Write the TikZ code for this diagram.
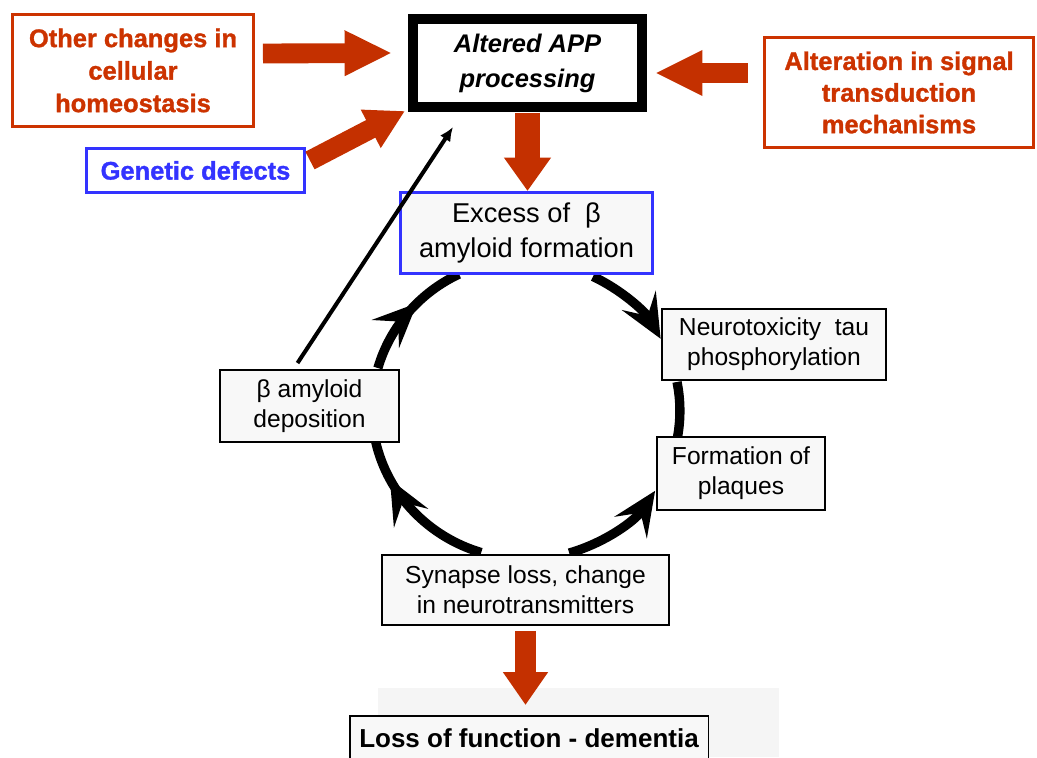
\documentclass[tikz,border=0pt]{standalone}
\usepackage{fontspec}
\setmainfont{Liberation Sans}
\newfontfamily\heavyfont[BoldFeatures={FakeBold=1.2}]{Liberation Sans}
\usetikzlibrary{arrows.meta,decorations.markings,backgrounds}
\definecolor{boxred}{RGB}{204,51,0}
\definecolor{arrowred}{RGB}{196,48,0}
\definecolor{boxblue}{RGB}{51,51,255}
\definecolor{cellgray}{RGB}{248,248,248}
\definecolor{bggray}{RGB}{245,245,245}

\begin{document}
\begin{tikzpicture}[
  x=0.02cm, y=-0.02cm,
  every node/.style={align=center, inner sep=0pt},
  cause/.style={draw=boxred, line width=1.7pt, fill=white, text=boxred,
    font=\fontsize{14.5}{18.5}\selectfont\heavyfont\bfseries},
  gene/.style={draw=boxblue, line width=1.7pt, fill=white, text=boxblue,
    font=\fontsize{14.5}{18.5}\selectfont\heavyfont\bfseries},
  stage/.style={draw=black, line width=1.1pt, fill=cellgray,
    font=\fontsize{14}{17}\selectfont},
  fatarrow/.style={draw=arrowred, line width=11.3pt,
    -{Triangle[length=27pt,width=24pt]}},
  loopline/.style={line width=5.3pt},
  looptip/.style={-{Stealth[length=25pt,width=22pt,inset=10pt]}},
  midtip/.style={postaction={decorate}, decoration={markings,
    mark=at position #1 with {\arrow{Stealth[length=25pt,width=22pt,inset=10pt]}}}}
]
\useasboundingbox (0,0) rectangle (1037,757);
\fill[bggray] (378,688) rectangle (779,757);

% causes
\node[cause, minimum width=4.82cm, minimum height=2.24cm] (other) at (133,70.5)
  {Other changes in\\cellular\\homeostasis};
\node[draw=black, line width=5.7pt, fill=white, minimum width=4.58cm, minimum height=1.76cm,
  font=\fontsize{14.5}{20}\selectfont\heavyfont\bfseries\itshape] (app) at (527.5,63)
  {Altered APP\\processing};
\node[cause, minimum width=5.38cm, minimum height=2.2cm,
  font=\fontsize{14.5}{18}\selectfont\heavyfont\bfseries]
  (alter) at (899,92.5) {Alteration in signal\\transduction\\mechanisms};
\node[gene, minimum width=4.36cm, minimum height=0.88cm] (genetic) at (195.5,170.5)
  {Genetic defects};

% cycle
\node[stage, draw=boxblue, line width=1.7pt, minimum width=5.04cm, minimum height=1.62cm,
  font=\fontsize{15.5}{20}\selectfont] (excess) at (526.5,233)
  {Excess of~ β\\amyloid formation};
\node[stage, minimum width=4.48cm, minimum height=1.42cm] (neuro) at (774,344.5)
  {Neurotoxicity~ tau\\phosphorylation};
\node[stage, minimum width=3.36cm, minimum height=1.46cm] (plaques) at (741,473.5)
  {Formation of\\plaques};
\node[stage, minimum width=3.58cm, minimum height=1.44cm] (beta) at (309.5,406)
  {β amyloid\\deposition};
\node[stage, minimum width=5.74cm, minimum height=1.4cm] (synapse) at (525.5,590)
  {Synapse loss, change\\in neurotransmitters};
\node[stage, anchor=north, minimum width=7.18cm, inner ysep=0.2cm, text height=0.44cm,
  text depth=1.2cm, font=\fontsize{14.8}{18}\selectfont\bfseries] (dementia) at (529,715)
  {Loss of function - dementia};

% red arrows
\draw[fatarrow] ([shift={(8,-17)}]other.east) -- ([shift={(-16,-10)}]app.west);
\draw[fatarrow] ([shift={(-15,-19.5)}]alter.west) -- ([shift={(8,10)}]app.east);
\draw[fatarrow, -{Triangle[length=22pt,width=23pt]}]
  ([shift={(4,-10)}]genetic.east) -- ([shift={(-3,-1)}]app.south west);
\draw[fatarrow, line width=14.7pt, -{Triangle[length=19pt,width=25.5pt]}]
  ([shift={(0,1)}]app.south) -- (app.south |- excess.north);
\draw[fatarrow, line width=12.5pt, -{Triangle[length=18.7pt,width=24.4pt]}]
  ([shift={(0,5)}]synapse.south) -- ([shift={(0,-10)}]synapse.south |- dementia.north);

% feedback
\draw[line width=2.3pt, -{Latex[length=8pt,width=7pt]}]
  ([shift={(-12,-6)}]beta.north) -- ([shift={(45,15)}]app.south west);

\begin{scope}[on background layer]
\draw[loopline, looptip] ([shift={(66.5,1.5)}]excess.south)
  arc[start angle=64.2, end angle=29, x radius=3.08cm, y radius=3cm];
\draw[loopline] ([shift={(-97,1)}]neuro.south)
  arc[start angle=11.1, end angle=-10, x radius=3.08cm, y radius=3cm];
\draw[loopline, looptip] ([shift={(43.7,-1)}]synapse.north)
  arc[start angle=-73.7, end angle=-33, x radius=3.08cm, y radius=3cm];
\draw[loopline, midtip=0.75] ([shift={(-44.3,-1.5)}]synapse.north)
  arc[start angle=-106.9, end angle=-167.3, x radius=3.08cm, y radius=3cm];
\draw[loopline, midtip=0.6] ([shift={(68.4,-1)}]beta.north)
  arc[start angle=164.1, end angle=115.8, x radius=3.08cm, y radius=3cm];
\end{scope}
\end{tikzpicture}
\end{document}
